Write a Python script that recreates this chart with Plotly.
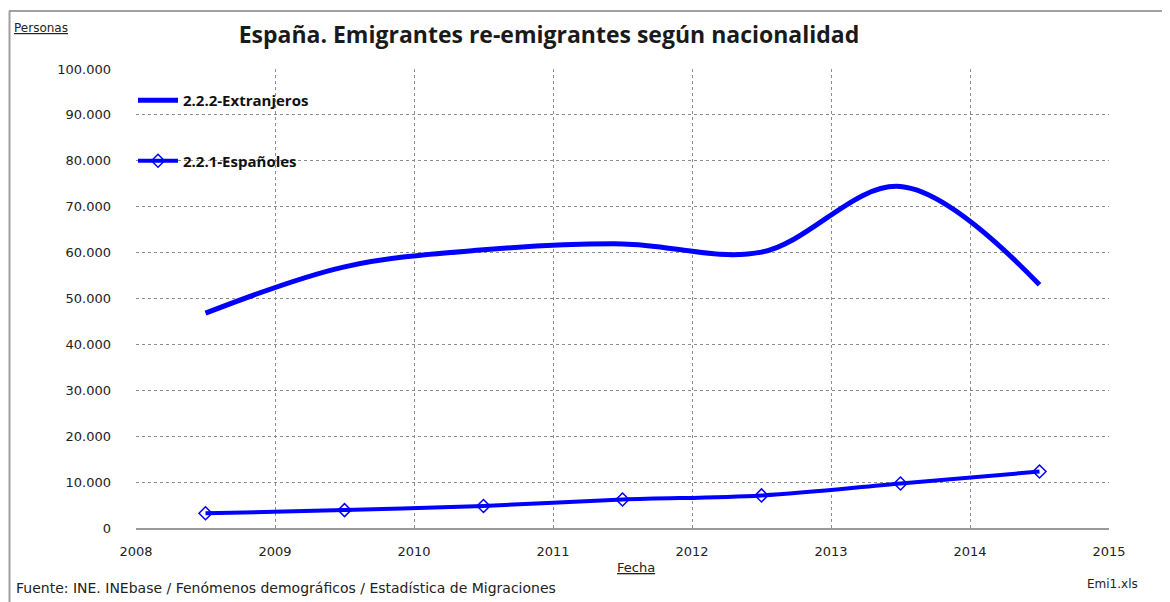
import plotly.graph_objects as go

# Data
years = [2008.5, 2009.5, 2010.5, 2011.5, 2012.5, 2013.5, 2014.5]
extranjeros = [46800, 56900, 60600, 61900, 60100, 74400, 53000]
espanoles = [3200, 3900, 4800, 6200, 7100, 9700, 12300]
x_ticks = [2008, 2009, 2010, 2011, 2012, 2013, 2014, 2015]
y_ticks = [0, 10000, 20000, 30000, 40000, 50000, 60000, 70000, 80000, 90000, 100000]

W, H = 1170, 602
OFF = 8  # browser body margin
# plot area in page pixels: x 136..1109, y 69..528
L = 136 - OFF
R = W - (1109 - OFF)
T = 69 - OFF
B = H - (528 - OFF)
pw, ph = W - L - R, H - T - B

def px_x(p):
    return (p - OFF - L) / pw

def px_y(p):
    return (H - B - (p - OFF)) / ph

BLUE = "#0000FF"
GRID = "#8c8c8c"

fig = go.Figure()
fig.add_trace(go.Scatter(
    x=years, y=extranjeros, name="<b>2.2.2-Extranjeros</b>", mode="lines",
    line=dict(color=BLUE, width=5, shape="spline", smoothing=1.0),
    legendgroup="a",
))
fig.add_trace(go.Scatter(
    x=years, y=espanoles, name="<b>2.2.1-Españoles</b>", mode="lines+markers",
    line=dict(color=BLUE, width=4, shape="spline", smoothing=1.0),
    marker=dict(symbol="diamond-open", size=10, color=BLUE, line=dict(width=1.5)),
    legendgroup="b",
))

tickfont = dict(family="DejaVu Sans", size=13, color="#222222")

fig.update_layout(
    width=W, height=H,
    margin=dict(l=L, r=R, t=T, b=B),
    paper_bgcolor="white", plot_bgcolor="white",
    separators=",.",
    title=dict(
        text="<b>España. Emigrantes re-emigrantes según nacionalidad</b>",
        font=dict(family="Open Sans", size=23, color="#1a1a1a"),
        x=(549 - OFF) / W, xanchor="center", xref="container",
        y=1 - (35 - OFF) / H, yanchor="middle", yref="container",
    ),
    showlegend=True,
    legend=dict(
        x=px_x(133), y=px_y(84), xanchor="left", yanchor="top",
        bgcolor="rgba(0,0,0,0)", borderwidth=0,
        font=dict(family="Open Sans", size=15, color="#111111"),
        tracegroupgap=38, itemwidth=40,
    ),
    xaxis=dict(
        range=[2008, 2015], tickvals=x_ticks, ticktext=[str(v) for v in x_ticks],
        showgrid=True, gridcolor=GRID, griddash="dot", gridwidth=1,
        showline=True, linecolor="#9a9a9a", linewidth=2,
        ticks="", tickfont=tickfont, ticklabelstandoff=10,
        zeroline=False, fixedrange=True,
    ),
    yaxis=dict(
        range=[0, 100000], tickvals=y_ticks, tickformat=",d",
        showgrid=True, gridcolor=GRID, griddash="dot", gridwidth=1,
        showline=False, ticks="", tickfont=tickfont, ticklabelstandoff=24,
        zeroline=False, fixedrange=True,
    ),
    shapes=[
        dict(type="line", xref="paper", yref="paper",
             x0=px_x(9), x1=px_x(1180), y0=px_y(11), y1=px_y(11),
             line=dict(color="#a0a0a0", width=2)),
        dict(type="line", xref="paper", yref="paper",
             x0=px_x(9.5), x1=px_x(9.5), y0=px_y(11), y1=px_y(610),
             line=dict(color="#a0a0a0", width=2)),
    ],
    annotations=[
        dict(text="<u>Personas</u>", xref="paper", yref="paper",
             x=px_x(12), y=px_y(28), xanchor="left", yanchor="middle",
             showarrow=False, font=dict(family="DejaVu Sans", size=12, color="#222222")),
        dict(text="<u>Fecha</u>", xref="paper", yref="paper",
             x=px_x(636), y=px_y(567), xanchor="center", yanchor="middle",
             showarrow=False, font=dict(family="DejaVu Sans", size=13, color="#222222")),
        dict(text="Fuente: INE. INEbase / Fenómenos demográficos / Estadística de Migraciones",
             xref="paper", yref="paper",
             x=px_x(14), y=px_y(588), xanchor="left", yanchor="middle",
             showarrow=False, font=dict(family="DejaVu Sans", size=14, color="#222222")),
        dict(text="Emi1.xls", xref="paper", yref="paper",
             x=px_x(1140), y=px_y(584), xanchor="right", yanchor="middle",
             showarrow=False, font=dict(family="DejaVu Sans", size=12, color="#222222")),
    ],
)

fig.write_html("out.html")
